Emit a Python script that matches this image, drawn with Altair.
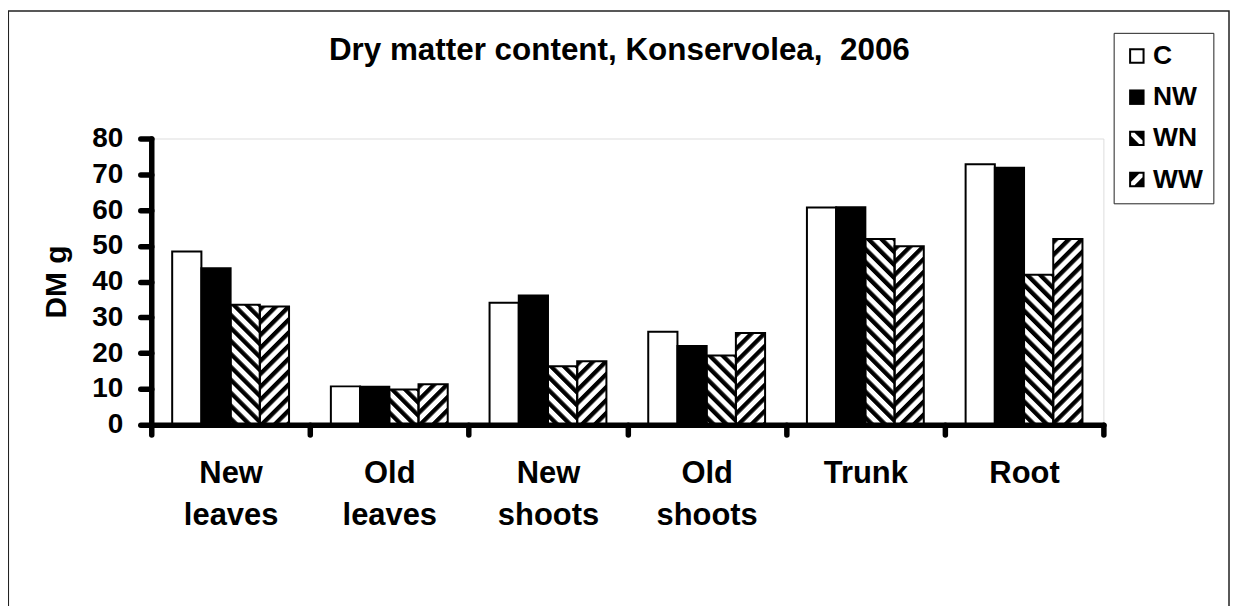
import base64
import altair as alt
import pandas as pd

# ---------------- data ----------------
parts = ["New leaves", "Old leaves", "New shoots", "Old shoots", "Trunk", "Root"]
groups = ["C", "NW", "WN", "WW"]
dm_C = [48.4, 10.7, 34.1, 26.0, 60.7, 72.8]
dm_NW = [43.7, 10.6, 36.1, 22.0, 60.8, 71.8]
dm_WN = [33.5, 9.8, 16.3, 19.3, 51.9, 41.9]
dm_WW = [33.0, 11.3, 17.7, 25.6, 49.9, 51.9]
y_ticks = [0, 10, 20, 30, 40, 50, 60, 70, 80]
title_text = "Dry matter content, Konservolea,\u00a0 2006"
y_title = "DM g"

rows = []
for g, vals in zip(groups, [dm_C, dm_NW, dm_WN, dm_WW]):
    for p, v in zip(parts, vals):
        rows.append({"part": p, "group": g, "dm": v})
df = pd.DataFrame(rows)

FONT = "Liberation Sans"


# ---------------- hatch fills (style only) ----------------
def hatch_uri(angle):
    svg = (
        '<svg xmlns="http://www.w3.org/2000/svg" width="100%" height="100%">'
        '<defs><pattern id="h" width="9.2" height="9.2" patternUnits="userSpaceOnUse" '
        f'patternTransform="rotate({angle})">'
        '<rect x="0" y="0" width="4.3" height="9.2" fill="black"/></pattern></defs>'
        '<rect width="100%" height="100%" fill="white"/>'
        '<rect width="100%" height="100%" fill="url(#h)"/></svg>'
    )
    return "data:image/svg+xml;base64," + base64.b64encode(svg.encode()).decode()


# ---------------- legend symbol shapes (style only) ----------------
def clip(poly, f):
    out = []
    n = len(poly)
    for i in range(n):
        a, b = poly[i], poly[(i + 1) % n]
        fa, fb = f(a), f(b)
        if fa >= 0:
            out.append(a)
        if (fa >= 0) != (fb >= 0):
            t = fa / (fa - fb)
            out.append((a[0] + t * (b[0] - a[0]), a[1] + t * (b[1] - a[1])))
    return out


def poly_path(pts):
    n = len(pts)
    area = sum(pts[i][0] * pts[(i + 1) % n][1] - pts[(i + 1) % n][0] * pts[i][1] for i in range(n))
    if area < 0:
        pts = pts[::-1]
    return "M" + "L".join(f"{x:.3f},{y:.3f}" for x, y in pts) + "Z"


K = 0.74
OUTER = "M-1,-1L1,-1L1,1L-1,1Z"
HOLE = f"M{-K},{-K}L{-K},{K}L{K},{K}L{K},{-K}Z"
INNER = [(-K, -K), (K, -K), (K, K), (-K, K)]


def striped(gfun, bands):
    path = OUTER + HOLE
    for a, b in bands:
        p = clip(INNER, lambda q: gfun(q) - a)
        p = clip(p, lambda q: b - gfun(q))
        if len(p) >= 3:
            path += poly_path(p)
    return path


bands = [(0.45, 1.6), (-1.6, -0.45)]
shape_paths = [
    OUTER + HOLE,
    OUTER,
    striped(lambda q: q[0] - q[1], bands),
    striped(lambda q: q[0] + q[1], bands),
]

# ---------------- encodings ----------------
x_enc = alt.X(
    "part:N",
    sort=parts,
    scale=alt.Scale(paddingInner=0, paddingOuter=0),
    axis=alt.Axis(
        title=None,
        labelAngle=0,
        labelExpr="split(datum.label, ' ')",
        labelFont=FONT,
        labelFontSize=31,
        labelFontWeight="bold",
        labelColor="black",
        labelLineHeight=42.7,
        labelPadding=23.8,
        tickBand="extent",
        tickSize=10,
        tickWidth=5.5,
        tickCap="round",
        tickColor="black",
        domainColor="black",
        domainWidth=5.5,
        domainCap="round",
        grid=False,
        zindex=1,
    ),
)
xoff = alt.XOffset(
    "group:N", sort=groups, scale=alt.Scale(domain=groups, paddingInner=0, paddingOuter=0.716)
)
y_enc = alt.Y(
    "dm:Q",
    scale=alt.Scale(domain=[0, 80], nice=False, zero=True),
    axis=alt.Axis(
        values=y_ticks,
        title=y_title,
        titleFont=FONT,
        titleFontSize=30,
        titleFontWeight="bold",
        titleColor="black",
        titleAngle=270,
        titleAlign="center",
        titleBaseline="middle",
        titleX=-94.7,
        titleY=143.5,
        labelFont=FONT,
        labelFontSize=28,
        labelFontWeight="bold",
        labelColor="black",
        labelPadding=17.5,
        tickSize=11,
        tickWidth=5.5,
        tickCap="round",
        tickColor="black",
        domainColor="black",
        domainWidth=5.5,
        domainCap="round",
        grid=False,
        zindex=1,
    ),
)

border = (
    alt.Chart(pd.DataFrame({"k": [0]}))
    .mark_rect(fill="transparent", stroke="#222222", strokeWidth=1.5)
    .encode(x=alt.value(-143.4), x2=alt.value(1081), y=alt.value(-128), y2=alt.value(640))
)

img_WN = (
    alt.Chart(df)
    .transform_filter(alt.datum.group == "WN")
    .mark_image(aspect=False)
    .encode(x=x_enc, xOffset=xoff, y=y_enc, y2=alt.datum(0), url=alt.value(hatch_uri(-45)))
)
img_WW = (
    alt.Chart(df)
    .transform_filter(alt.datum.group == "WW")
    .mark_image(aspect=False)
    .encode(x=x_enc, xOffset=xoff, y=y_enc, y2=alt.datum(0), url=alt.value(hatch_uri(45)))
)

bars = (
    alt.Chart(df)
    .mark_bar(stroke="black", strokeWidth=2)
    .encode(
        x=x_enc,
        xOffset=xoff,
        y=y_enc,
        fill=alt.condition(alt.datum.group == "NW", alt.value("black"), alt.value("transparent")),
    )
)

# invisible points (size 0) that only carry the legend
legend_layer = (
    alt.Chart(df)
    .mark_point(filled=True, color="black", strokeWidth=0, size=0)
    .encode(
        shape=alt.Shape(
            "group:N",
            scale=alt.Scale(domain=groups, range=shape_paths),
            legend=alt.Legend(
                title=None,
                orient="none",
                legendX=965.3,
                legendY=-106,
                direction="vertical",
                labelFont=FONT,
                labelFontSize=26.5,
                labelFontWeight="bold",
                labelColor="black",
                labelOffset=3,
                symbolSize=240,
                symbolStrokeWidth=0,
                symbolFillColor="black",
                symbolOpacity=1,
                rowPadding=14.3,
                padding=10,
                strokeColor="#222222",
                fillColor="white",
            ),
        )
    )
)

chart = (
    alt.layer(border, img_WN, img_WW, bars, legend_layer)
    .properties(
        width=955,
        height=287,
        autosize=alt.AutoSizeParams(type="none"),
        padding={"left": 143.7, "top": 130, "right": 127, "bottom": 181},
        title=alt.TitleParams(
            text=title_text,
            font=FONT,
            fontSize=31.5,
            fontWeight="bold",
            color="black",
            anchor="middle",
            dx=-8,
            dy=57,
            offset=0,
        ),
    )
    .configure_view(stroke="transparent", strokeWidth=0)
    .configure_legend(strokeWidth=1.5)
    .configure(background="white")
)

chart.save("out.html", embed_options={"renderer": "svg", "actions": False})
